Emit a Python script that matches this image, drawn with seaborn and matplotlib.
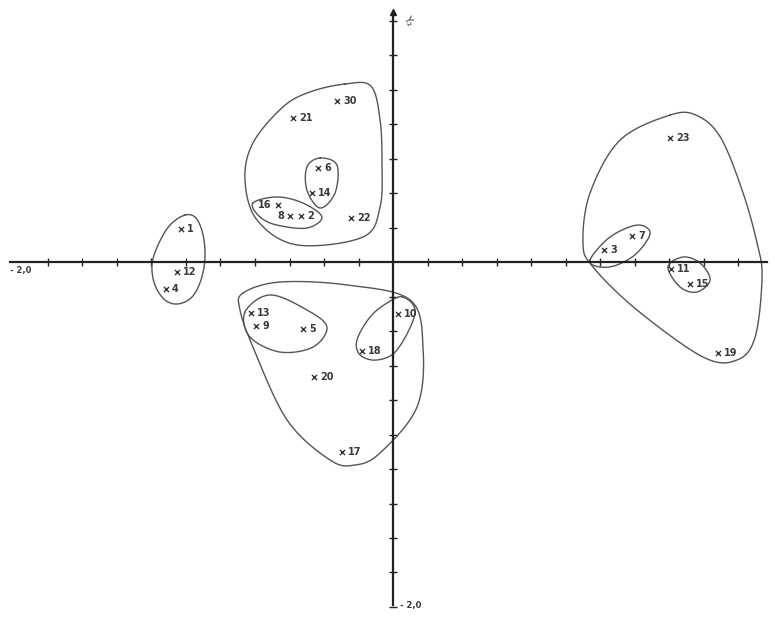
import numpy as np
import pandas as pd
import seaborn as sns
import matplotlib
matplotlib.use("Agg")
import matplotlib.pyplot as plt

# point labels and coordinates
point_ids = ["1", "12", "4", "21", "30", "6", "14", "16", "8", "2", "22",
             "13", "9", "5", "10", "18", "20", "17",
             "3", "7", "11", "15", "19", "23"]
x_vals = [-1.229, -1.252, -1.316, -0.580, -0.325, -0.435, -0.470, -0.667, -0.597, -0.533, -0.243,
          -0.823, -0.794, -0.522, 0.029, -0.180, -0.458, -0.296,
          1.223, 1.386, 1.612, 1.722, 1.884, 1.606]
y_vals = [0.191, -0.058, -0.157, 0.835, 0.933, 0.545, 0.400, 0.330, 0.267, 0.267, 0.255,
          -0.296, -0.371, -0.388, -0.301, -0.516, -0.667, -1.101,
          0.070, 0.151, -0.041, -0.128, -0.528, 0.719]
# numbers written before the x instead of after
label_left = ["16", "8"]

# hand drawn cluster outlines (x list, y list)
outline_left_x = [-1.206, -1.293, -1.362, -1.397, -1.380, -1.322, -1.246, -1.165, -1.113, -1.090, -1.101, -1.142]
outline_left_y = [0.272, 0.214, 0.099, -0.017, -0.133, -0.220, -0.243, -0.203, -0.104, 0.023, 0.157, 0.255]
outline_top_x = [-0.278, -0.128, -0.075, -0.064, -0.075, -0.174, -0.557, -0.788, -0.858, -0.812, -0.638, -0.481]
outline_top_y = [1.032, 1.020, 0.823, 0.574, 0.319, 0.145, 0.099, 0.243, 0.475, 0.690, 0.899, 0.986]
outline_6_14_x = [-0.423, -0.325, -0.336, -0.423, -0.499, -0.499]
outline_6_14_y = [0.603, 0.562, 0.400, 0.313, 0.417, 0.551]
outline_16_2_x = [-0.812, -0.672, -0.522, -0.412, -0.499, -0.672, -0.771]
outline_16_2_y = [0.342, 0.377, 0.342, 0.261, 0.197, 0.214, 0.261]
outline_bottom_x = [-0.870, -0.655, -0.267, 0.099, 0.174, 0.139, -0.075, -0.220, -0.365, -0.614, -0.812, -0.887]
outline_bottom_y = [-0.180, -0.116, -0.133, -0.220, -0.493, -0.841, -1.107, -1.177, -1.148, -0.916, -0.493, -0.278]
outline_13_5_x = [-0.858, -0.713, -0.499, -0.383, -0.464, -0.655, -0.829]
outline_13_5_y = [-0.290, -0.191, -0.278, -0.377, -0.493, -0.522, -0.435]
outline_10_18_x = [0.058, 0.128, 0.023, -0.093, -0.191, -0.209, -0.133, -0.035]
outline_10_18_y = [-0.203, -0.296, -0.510, -0.568, -0.539, -0.452, -0.319, -0.238]
outline_right_x = [1.606, 1.760, 1.900, 2.029, 2.110, 2.139, 2.099, 1.994, 1.797, 1.414, 1.159, 1.101, 1.142, 1.316]
outline_right_y = [0.852, 0.850, 0.720, 0.400, 0.110, -0.087, -0.435, -0.568, -0.551, -0.278, -0.029, 0.110, 0.400, 0.707]
outline_3_7_x = [1.142, 1.258, 1.414, 1.490, 1.414, 1.299, 1.200]
outline_3_7_y = [0.012, 0.145, 0.214, 0.168, 0.052, -0.017, -0.029]
outline_11_15_x = [1.594, 1.681, 1.780, 1.838, 1.762, 1.664]
outline_11_15_y = [-0.029, 0.029, -0.006, -0.104, -0.174, -0.145]

outlines = [
    (outline_left_x, outline_left_y),
    (outline_top_x, outline_top_y),
    (outline_6_14_x, outline_6_14_y),
    (outline_16_2_x, outline_16_2_y),
    (outline_bottom_x, outline_bottom_y),
    (outline_13_5_x, outline_13_5_y),
    (outline_10_18_x, outline_10_18_y),
    (outline_right_x, outline_right_y),
    (outline_3_7_x, outline_3_7_y),
    (outline_11_15_x, outline_11_15_y),
]


def closed_spline(xs, ys, n=24):
    # closed catmull-rom curve through the outline points
    p = np.column_stack([xs, ys])
    m = len(p)
    t = np.linspace(0, 1, n, endpoint=False)[:, None]
    parts = []
    for i in range(m):
        p0, p1, p2, p3 = p[i - 1], p[i], p[(i + 1) % m], p[(i + 2) % m]
        seg = 0.5 * ((2 * p1) + (-p0 + p2) * t + (2 * p0 - 5 * p1 + 4 * p2 - p3) * t ** 2
                     + (-p0 + 3 * p1 - 3 * p2 + p3) * t ** 3)
        parts.append(seg)
    curve = np.vstack(parts + [p[0:1]])
    return curve[:, 0], curve[:, 1]


sns.set_style("white")
plt.rcParams['font.family'] = ['DejaVu Sans']

points_df = pd.DataFrame({"x": x_vals, "y": y_vals, "id": point_ids})

fig = plt.figure(figsize=(7.75, 6.17), dpi=100)
ax = fig.add_axes([0, 0, 1, 1])

ink = "#3a3a3a"

for ox, oy in outlines:
    cx, cy = closed_spline(ox, oy)
    sns.lineplot(x=cx, y=cy, sort=False, estimator=None, ax=ax, color="#555555", lw=1.0)

sns.scatterplot(data=points_df, x="x", y="y", marker="x", s=14, color=ink,
                linewidth=1.0, ax=ax, zorder=3)

for _, row in points_df.iterrows():
    if row["id"] in label_left:
        ax.text(row["x"] - 0.035, row["y"], row["id"], ha="right", va="center",
                fontsize=7, fontweight="bold", color=ink)
    else:
        ax.text(row["x"] + 0.035, row["y"], row["id"], ha="left", va="center",
                fontsize=7, fontweight="bold", color=ink)

ax.set_xlim(-2.278, 2.214)
ax.set_ylim(-2.058, 1.519)

# axes through the origin
for side in ["top", "right"]:
    ax.spines[side].set_visible(False)
ax.spines["left"].set_position(("data", 0))
ax.spines["bottom"].set_position(("data", 0))
ax.spines["bottom"].set_bounds(-2.22, 2.17)
ax.spines["left"].set_bounds(-1.99, 1.45)
for side in ["left", "bottom"]:
    ax.spines[side].set_linewidth(1.6)
    ax.spines[side].set_color("#222222")

xt = [v for v in np.round(np.arange(-2.0, 2.01, 0.2), 1) if v != 0]
yt = [v for v in np.round(np.arange(-2.0, 1.41, 0.2), 1) if v != 0]
ax.set_xticks(xt)
ax.set_yticks(yt)
ax.tick_params(axis="both", direction="inout", length=6, width=1.0, color="#222222",
               bottom=True, left=True, labelbottom=False, labelleft=False)
ax.set_xlabel("")
ax.set_ylabel("")

ax.plot([0], [1.45], marker="^", ms=5, color="#222222", clip_on=False)
ax.text(0.05, 1.40, "Y₂", fontsize=7, color=ink, rotation=-60, ha="left", va="center")
ax.text(-2.22, -0.05, "- 2,0", fontsize=6, fontweight="bold", color=ink, ha="left", va="center")
ax.text(0.04, -1.99, "- 2,0", fontsize=6, fontweight="bold", color=ink, ha="left", va="center")

fig.savefig("out.png", dpi=100, facecolor="white")
